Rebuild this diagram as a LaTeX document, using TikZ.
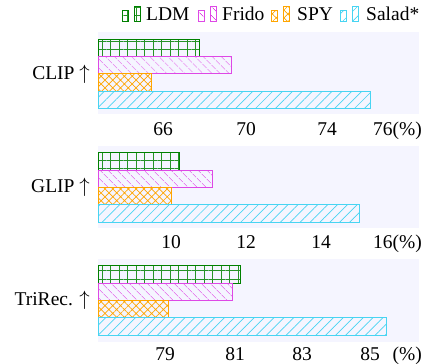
\documentclass[tikz,border=0pt]{standalone}
\usepackage{fontspec}
\setmainfont{Liberation Serif}
\usetikzlibrary{patterns.meta}
\definecolor{ldm}{RGB}{0,128,0}
\definecolor{frido}{RGB}{222,72,230}
\definecolor{spy}{RGB}{255,165,0}
\definecolor{salad}{RGB}{72,212,242}
\definecolor{bgc}{RGB}{245,245,255}
\begin{document}
\begin{tikzpicture}[x=1pt,y=-1pt,
  font=\fontsize{19.5}{22}\selectfont,
  panel/.style={fill=bgc,draw=none},
  ldmbar/.style={draw=ldm,line width=1pt,pattern={Hatch[angle=0,distance=8.5pt,line width=0.8pt]},pattern color=ldm!85},
  fridobar/.style={draw=frido,line width=0.8pt,pattern={Lines[angle=-45,distance=6.5pt,line width=0.7pt]},pattern color=frido},
  spybar/.style={draw=spy,line width=0.8pt,pattern={Hatch[angle=45,distance=5.5pt,line width=0.7pt]},pattern color=spy},
  saladbar/.style={draw=salad,line width=0.8pt,pattern={Lines[angle=45,distance=7pt,line width=0.7pt]},pattern color=salad},
  lab/.style={anchor=base east,inner sep=0pt},
  tick/.style={anchor=base,inner sep=0pt},
  tickr/.style={anchor=base east,inner sep=0pt},
  leg/.style={anchor=base west,inner sep=0pt}]
\useasboundingbox (0,0) rectangle (431,364);

% legend
\draw[ldmbar] (122,10.3) rectangle (128,21);
\draw[ldmbar] (134,6) rectangle (140,21);
\node[leg] (lldm) at (146,20.5) {LDM};
\draw[fridobar] (198.3,10.3) rectangle (204.3,21);
\draw[fridobar] (210.3,6) rectangle (216.3,21);
\node[leg] (lfrido) at (222,20.5) {Frido};
\draw[spybar] (271.7,10.3) rectangle (277.7,21);
\draw[spybar] (283.7,6) rectangle (289.7,21);
\node[leg] (lspy) at (297,20.5) {SPY};
\draw[saladbar] (340,10.3) rectangle (346,21);
\draw[saladbar] (352,6) rectangle (358,21);
\node[leg] (lsalad) at (366,20.5) {Salad*};

% panel 1: CLIP
\fill[panel] (98,32) rectangle (419,114);
\draw[ldmbar] (98,39.5) rectangle (199,56);
\draw[fridobar] (98,56) rectangle (231,73.5);
\draw[spybar] (98,73.5) rectangle (151,91);
\draw[saladbar] (98,91) rectangle (370,108.5);
\node[lab] (clip) at (90,79) {CLIP $\uparrow$};
\node[tick] (c66) at (163,135) {66};
\node[tick] (c70) at (246,135) {70};
\node[tick] (c74) at (327,135) {74};
\node[tickr] (c76) at (422,135) {76(\%)};

% panel 2: GLIP
\fill[panel] (98,146) rectangle (419,228);
\draw[ldmbar] (98,152) rectangle (179,170);
\draw[fridobar] (98,170) rectangle (212,187);
\draw[spybar] (98,187) rectangle (171,204);
\draw[saladbar] (98,204) rectangle (359,222);
\node[lab] (glip) at (90,192) {GLIP $\uparrow$};
\node[tick] (g10) at (171,248) {10};
\node[tick] (g12) at (246,248) {12};
\node[tick] (g14) at (321,248) {14};
\node[tickr] (g16) at (422,248) {16(\%)};

% panel 3: TriRec.
\fill[panel] (98,259) rectangle (419,342);
\draw[ldmbar] (98,265) rectangle (240,283);
\draw[fridobar] (98,283) rectangle (232,300.5);
\draw[spybar] (98,300.5) rectangle (168,317);
\draw[saladbar] (98,317) rectangle (386,335);
\node[lab] (trirec) at (90,305) {TriRec. $\uparrow$};
\node[tick] (t79) at (165,360) {79};
\node[tick] (t81) at (235,360) {81};
\node[tick] (t83) at (302,360) {83};
\node[tick] (t85) at (370,360) {85};
\node[tickr] (tpct) at (422,360) {(\%)};
\end{tikzpicture}
\end{document}
